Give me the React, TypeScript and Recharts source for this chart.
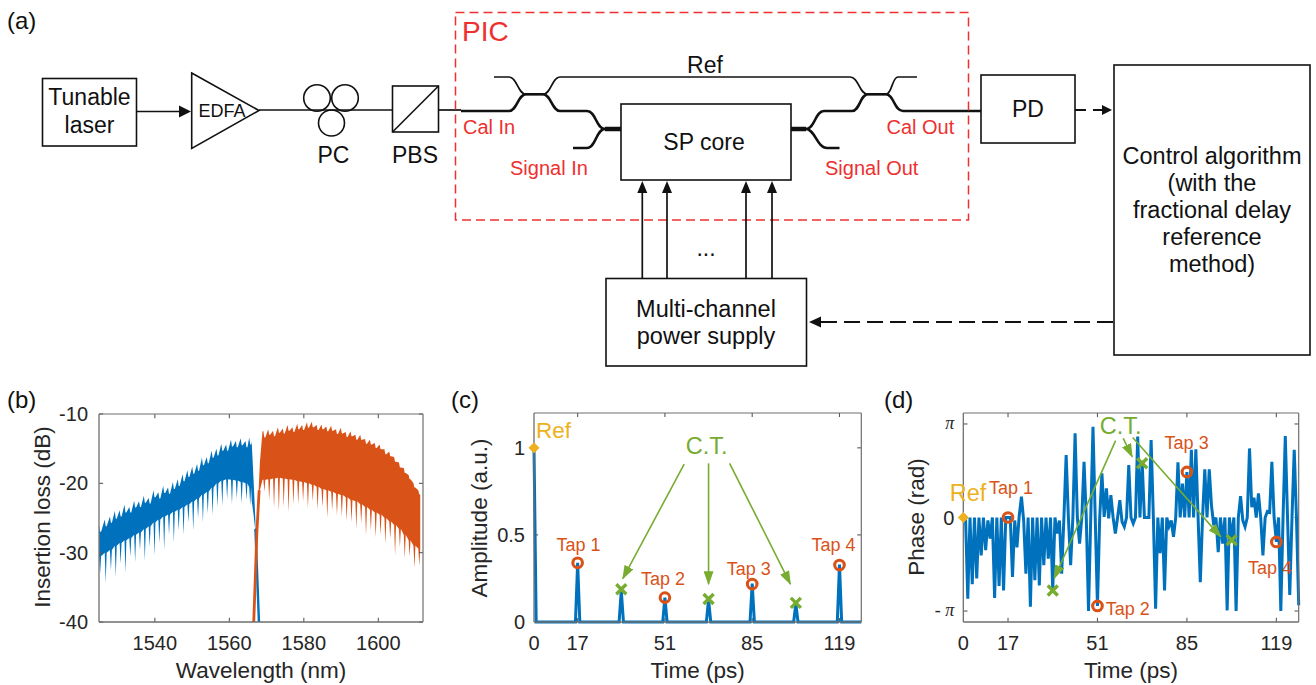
import { ComposedChart, Area, Line, XAxis, YAxis, ReferenceLine, Label, Surface } from 'recharts';

const BLUE = '#0072BD';
const ORANGE = '#D95319';
const GREEN = '#77AC30';
const YELLOW = '#EDB120';
const RED = '#EE3030';
const INK = '#262626';
const FRAME = '#6e6e6e';
const SANS = '"Liberation Sans", Arial, sans-serif';

// (b) spectrum, read per comb dip
const blueNm = [1525.3, 1526.8, 1528.2, 1529.5, 1530.8, 1532.1, 1533.4, 1534.7, 1536.0, 1537.3, 1538.6, 1539.9, 1541.2, 1542.5, 1543.8, 1545.1, 1546.4, 1547.7, 1549.0, 1550.3, 1551.6, 1552.9, 1554.2, 1555.5, 1556.8, 1558.1, 1559.4, 1560.7, 1562.0, 1563.3, 1564.6, 1565.6];
const blueTop = [-26.0, -25.2, -24.8, -24.0, -23.9, -23.1, -23.4, -22.5, -22.6, -21.8, -22.1, -21.0, -21.3, -20.4, -20.6, -19.8, -19.4, -18.7, -18.1, -17.6, -17.2, -16.3, -16.2, -15.3, -15.0, -14.3, -14.4, -13.7, -13.9, -13.5, -13.9, -13.4];
const blueValley = [-27.0, -26.2, -25.7, -25.1, -24.8, -24.2, -24.2, -23.5, -23.4, -22.8, -22.9, -22.0, -22.2, -21.4, -21.5, -20.8, -20.4, -19.7, -19.1, -18.6, -18.2, -17.4, -17.1, -16.3, -16.0, -15.3, -15.3, -14.7, -14.8, -14.5, -14.8, -14.4];
const blueBand = [-30.5, -30.0, -29.6, -29.0, -28.6, -28.2, -27.9, -27.4, -27.1, -26.6, -26.2, -25.6, -25.2, -24.8, -24.5, -24.1, -23.8, -23.4, -23.0, -22.6, -22.2, -21.6, -21.2, -20.6, -20.0, -19.6, -19.4, -19.5, -19.6, -19.8, -20.0, -20.6];
const blueDip = [-33.0, -34.4, -32.6, -33.5, -31.6, -32.9, -30.6, -31.4, -29.6, -31.2, -29.2, -30.4, -28.6, -29.6, -27.4, -28.5, -26.8, -27.4, -25.6, -26.8, -25.0, -25.6, -24.4, -24.6, -23.4, -23.2, -22.3, -23.0, -22.2, -22.9, -22.4, -23.2];
const blueEdgeNm = [1566.0, 1566.5, 1567.0];
const blueEdgeLow = [-22.5, -24.5, -27.0];
const blueEdgeHigh = [-14.0, -19.5, -25.5];
const blueTailNm = [1567.0, 1567.95];
const blueTailDb = [-26.5, -40];

const orangeNm = [1569.4, 1570.7, 1572.0, 1573.3, 1574.6, 1575.9, 1577.2, 1578.5, 1579.8, 1581.1, 1582.4, 1583.7, 1585.0, 1586.3, 1587.6, 1588.9, 1590.2, 1591.5, 1592.8, 1594.1, 1595.4, 1596.7, 1598.0, 1599.3, 1600.6, 1601.9, 1603.2, 1604.5, 1605.8, 1607.1, 1608.4, 1609.7, 1611.0];
const orangeTop = [-12.5, -12.2, -12.4, -11.9, -12.1, -11.6, -11.9, -11.4, -11.6, -11.2, -11.1, -11.6, -11.5, -11.8, -11.7, -12.2, -12.0, -12.6, -12.5, -13.0, -13.0, -13.6, -13.7, -14.2, -14.4, -15.1, -15.4, -16.2, -17.0, -17.8, -18.8, -20.0, -21.0];
const orangeValley = [-13.4, -13.0, -13.2, -12.7, -12.8, -12.4, -12.6, -12.2, -12.3, -12.0, -11.9, -12.3, -12.2, -12.5, -12.4, -12.9, -12.8, -13.3, -13.2, -13.7, -13.7, -14.3, -14.4, -14.9, -15.1, -15.8, -16.1, -16.9, -17.7, -18.5, -19.4, -20.6, -21.6];
const orangeBand = [-19.5, -19.4, -19.3, -19.2, -19.3, -19.4, -19.5, -19.7, -19.8, -20.0, -20.2, -20.5, -20.8, -21.0, -21.2, -21.5, -21.7, -22.0, -22.4, -22.6, -23.0, -23.4, -23.8, -24.2, -24.5, -25.0, -25.5, -26.0, -26.6, -27.4, -28.2, -29.0, -29.4];
const orangeDip = [-21.2, -22.4, -23.6, -24.1, -23.4, -24.2, -23.1, -23.0, -22.6, -23.6, -22.6, -23.8, -23.4, -25.0, -23.9, -24.6, -24.8, -25.4, -25.6, -26.6, -25.8, -27.5, -26.8, -27.8, -27.4, -28.7, -28.0, -30.4, -29.2, -30.8, -30.5, -32.2, -31.9];
const orangeEdgeNm = [1567.7, 1568.2, 1568.9];
const orangeEdgeLow = [-23.5, -21.0, -19.5];
const orangeEdgeHigh = [-23.0, -17.0, -12.5];
const orangeTailNm = [1566.55, 1567.4, 1568.0];
const orangeTailDb = [-40, -27, -21];

// (c) amplitude
const ampTimes = [0, 0.85, 16.15, 17, 17.85, 33.15, 34, 34.85, 50.15, 51, 51.85, 67.15, 68, 68.85, 84.15, 85, 85.85, 101.15, 102, 102.85, 118.15, 119, 119.85, 127.5];
const ampValues = [1, 0, 0, 0.34, 0, 0, 0.18, 0, 0, 0.14, 0, 0, 0.13, 0, 0, 0.22, 0, 0, 0.105, 0, 0, 0.33, 0, 0];

// (d) phase, one value every 0.85 ps
const SAMPLE_PS = 0.85;
const phaseValues = [
  0, 0, -2.73, 0, -2.24, 0, -2.05, 0, -1.27, 0, -1.1, -0.1, -0.71, 0, -2.7, 0, -2.3, 0, -2.45, 0,
  0, 0, -2.0, -0.1, -1.0, 0.05, 0.7, -0.1, -1.89, 0, -3.0, 0, -2.11, 0, -2.28, 0, -1.6, 0, -1.38, 0,
  -2.45, 0, -0.54, -0.1, -1.89, 0, 2.1, 0, -1.6, 0, 2.83, 0, -0.88, 0, 1.87, 0, -3.14, 0, 3.05, 0,
  -2.97, 0, 1.48, 0.02, 0.98, -0.03, 0.75, 0, -0.54, 0, 0.58, -0.15, -0.31, 0, 1.76, 0, -0.2, 0, 2.72, 0,
  1.85, 0, 0, 0, 2.6, 0, -3.06, 0, -1.2, 0, -2.45, 0, -0.3, -0.1, -0.65, 0, 1.85, 0, 1.14, 0,
  1.53, 0, 2.27, 0, 2.29, 0, -2.17, 0, 1.62, 0, 1.62, 0.4, -0.26, 0, -1.16, 0, -0.88, 0, -3.12, 0,
  -0.76, 0, -3.14, 0, 0.72, -0.1, -0.31, 0, 2.32, 0.35, 0.67, 0, 0.81, 0, -1.27, 0, 0.2, 0.17, 1.87, 0,
  -0.82, 0, -3.14, 0, 2.74, 0, -2.6, 0, 2.27, 0, -2.95,
];

// markers and notes, in data units of each panel
const ampTaps = [{ t: 17, v: 0.34 }, { t: 51, v: 0.14 }, { t: 85, v: 0.218 }, { t: 119, v: 0.327 }];
const ampCrossTalk = [{ t: 34, v: 0.188 }, { t: 68, v: 0.132 }, { t: 102, v: 0.11 }];
const ampRef = [{ t: 0, v: 1 }];
const ampTapNotes = [{ t: 17.3, v: 0.409, text: 'Tap 1' }, { t: 50.3, v: 0.213, text: 'Tap 2' }, { t: 83.7, v: 0.27, text: 'Tap 3' }, { t: 116.7, v: 0.409, text: 'Tap 4' }];
const ampArrows = [
  [{ x: 58.5, y: 0.906 }, { x: 34.6, y: 0.249 }],
  [{ x: 68, y: 0.911 }, { x: 68, y: 0.217 }],
  [{ x: 76.2, y: 0.911 }, { x: 99.9, y: 0.218 }],
];

const phaseTaps = [{ t: 17, v: 0 }, { t: 51, v: -2.97 }, { t: 85, v: 1.53 }, { t: 119, v: -0.82 }];
const phaseCrossTalk = [{ t: 34, v: -2.45 }, { t: 68, v: 1.82 }, { t: 102, v: -0.76 }];
const phaseRef = [{ t: 0, v: 0 }];
const phaseTapNotes = [{ t: 18.1, v: 0.774, text: 'Tap 1' }, { t: 62.5, v: -3.29, text: 'Tap 2' }, { t: 84.9, v: 2.3, text: 'Tap 3' }, { t: 116.6, v: -1.885, text: 'Tap 4' }];
const phaseArrows = [
  [{ x: 57.9, y: 2.58 }, { x: 34.6, y: -2.04 }],
  [{ x: 60.8, y: 2.66 }, { x: 64.2, y: 2.04 }],
  [{ x: 64.4, y: 2.69 }, { x: 97.9, y: -0.65 }],
];

const timeTicks = [0, 17, 51, 85, 119];
const nmTicks = [1540, 1560, 1580, 1600];
const dbTicks = [-40, -30, -20, -10];
const ampTicks = [0, 0.5, 1];
const phaseTicks = [-Math.PI, 0, Math.PI];

function combTable(nm: number[], top: number[], valley: number[], band: number[], dip: number[]) {
  const rows: { t: number; range: number[] }[] = [];
  nm.forEach((x, i) => {
    rows.push({ t: x - 0.26, range: [band[i], top[i]] });
    rows.push({ t: x, range: [dip[i], valley[i]] });
    rows.push({ t: x + 0.26, range: [band[i], valley[i]] });
  });
  return rows;
}

const edgeRows = (nm: number[], low: number[], high: number[]) => nm.map((t, i) => ({ t, range: [low[i], high[i]] }));
const pairs = (ts: number[], vs: number[]) => ts.map((t, i) => ({ t, v: vs[i] }));

const blueTable = [...combTable(blueNm, blueTop, blueValley, blueBand, blueDip), ...edgeRows(blueEdgeNm, blueEdgeLow, blueEdgeHigh)];
const orangeTable = [...edgeRows(orangeEdgeNm, orangeEdgeLow, orangeEdgeHigh), ...combTable(orangeNm, orangeTop, orangeValley, orangeBand, orangeDip)];
const ampTable = pairs(ampTimes, ampValues);
const phaseTable = phaseValues.map((v, i) => ({ t: i * SAMPLE_PS, v }));

const tickFont = { fontSize: 20, fill: INK, fontFamily: SANS };
const titleFont = { fontSize: 22.5, fill: INK, fontFamily: SANS };

// matlab style inward ticks on all four sides
function innerTicks(xs: number[], xDomain: number[], ys: number[], yDomain: number[], dx: number, dy: number) {
  const [x0, x1] = xDomain;
  const [y0, y1] = yDomain;
  const segments = [
    ...xs.flatMap((x) => [
      [{ x, y: y0 }, { x, y: y0 + dy }],
      [{ x, y: y1 }, { x, y: y1 - dy }],
    ]),
    ...ys.flatMap((y) => [
      [{ x: x0, y }, { x: x0 + dx, y }],
      [{ x: x1, y }, { x: x1 - dx, y }],
    ]),
  ];
  return segments.map((segment, i) => <ReferenceLine key={`tick-${i}`} segment={segment} stroke="#5a5a5a" strokeWidth={1.1} />);
}

const ringDot = (p: any) => <circle key={p.index} cx={p.cx} cy={p.cy} r={4.8} fill="none" stroke={ORANGE} strokeWidth={3.1} />;
const crossDot = (p: any) => (
  <path key={p.index} d={`M${p.cx - 5} ${p.cy - 5}L${p.cx + 5} ${p.cy + 5}M${p.cx - 5} ${p.cy + 5}L${p.cx + 5} ${p.cy - 5}`} stroke={GREEN} strokeWidth={3.4} fill="none" />
);
const diamondDot = (p: any) => <path key={p.index} d={`M${p.cx - 5} ${p.cy}L${p.cx} ${p.cy - 5}L${p.cx + 5} ${p.cy}L${p.cx} ${p.cy + 5}Z`} fill={YELLOW} stroke={YELLOW} />;
const noteDot = (color: string, size: number, text?: string) => (p: any) => (
  <text key={p.index} x={p.cx} y={p.cy} textAnchor="middle" fontSize={size} fontFamily={SANS} fill={color}>
    {text ?? p.payload.text}
  </text>
);

const rotated = (text: string, x: number, y: number) => () => (
  <text transform={`translate(${x},${y}) rotate(-90)`} textAnchor="middle" fontSize={22.5} fontFamily={SANS} fill={INK}>
    {text}
  </text>
);

function PiTick(p: any) {
  const v = p.payload.value;
  if (v === 0) {
    return <text x={p.x} y={p.y + 7} textAnchor="end" fontSize={20} fontFamily={SANS} fill={INK}>0</text>;
  }
  return (
    <text x={p.x} y={p.y + 5} textAnchor="end" fontSize={18} fontFamily='"Liberation Serif", serif' fontStyle="italic" fill={INK}>
      {v < 0 ? '- π' : 'π'}
    </text>
  );
}

function SpectrumPanel() {
  return (
    <div style={{ position: 'absolute', left: 0, top: 395 }}>
      <ComposedChart width={440} height={290} margin={{ top: 18, right: 16, bottom: 0, left: 0 }}>
        <XAxis dataKey="t" type="number" domain={[1525, 1612]} ticks={nmTicks} interval={0} height={63} stroke={FRAME} strokeWidth={1.3} tickLine={false} tickSize={-4} tickMargin={18} tick={tickFont} allowDataOverflow
          label={{ value: 'Wavelength (nm)', position: 'insideBottom', offset: 7, ...titleFont }} />
        <XAxis xAxisId="top" orientation="top" type="number" domain={[1525, 1612]} ticks={nmTicks} height={1} stroke={FRAME} strokeWidth={1.2} tickLine={false} tick={false} />
        <YAxis type="number" domain={[-40, -10]} ticks={dbTicks} interval={0} width={99} stroke={FRAME} strokeWidth={1.3} tickLine={false} tickSize={-4} tickMargin={15} tick={tickFont}>
          <Label content={rotated('Insertion loss (dB)', 50, 122)} />
        </YAxis>
        <YAxis yAxisId="right" orientation="right" type="number" domain={[-40, -10]} ticks={dbTicks} width={1} stroke={FRAME} strokeWidth={1.2} tickLine={false} tick={false} />
        <Area data={blueTable} dataKey="range" stroke="none" fill={BLUE} fillOpacity={1} isAnimationActive={false} />
        <Line data={pairs(blueTailNm, blueTailDb)} dataKey="v" stroke={BLUE} strokeWidth={2.4} dot={false} isAnimationActive={false} />
        <Area data={orangeTable} dataKey="range" stroke="none" fill={ORANGE} fillOpacity={1} isAnimationActive={false} />
        <Line data={pairs(orangeTailNm, orangeTailDb)} dataKey="v" stroke={ORANGE} strokeWidth={2.8} dot={false} isAnimationActive={false} />
        {innerTicks(nmTicks, [1525, 1612], dbTicks, [-40, -10], 1.1, 0.6)}
      </ComposedChart>
    </div>
  );
}

function AmplitudePanel() {
  return (
    <div style={{ position: 'absolute', left: 440, top: 395 }}>
      <ComposedChart width={440} height={290} margin={{ top: 17, right: 17.7, bottom: 0, left: 0 }}>
        <XAxis dataKey="t" type="number" domain={[0, 127.5]} ticks={timeTicks} interval={0} height={63} stroke={FRAME} strokeWidth={1.3} tickLine={false} tickSize={-4} tickMargin={18} tick={tickFont}
          label={{ value: 'Time (ps)', position: 'insideBottom', offset: 7, ...titleFont }} />
        <XAxis xAxisId="top" orientation="top" type="number" domain={[0, 127.5]} ticks={timeTicks} height={1} stroke={FRAME} strokeWidth={1.2} tickLine={false} tick={false} />
        <YAxis type="number" domain={[0, 1.2]} ticks={ampTicks} interval={0} width={94} stroke={FRAME} strokeWidth={1.3} tickLine={false} tickSize={-4} tickMargin={13} tick={tickFont}>
          <Label content={rotated('Amplitude (a.u.)', 47, 123)} />
        </YAxis>
        <YAxis yAxisId="right" orientation="right" type="number" domain={[0, 1.2]} ticks={ampTicks} width={1} stroke={FRAME} strokeWidth={1.2} tickLine={false} tick={false} />
        {innerTicks(timeTicks.slice(1), [0, 127.5], ampTicks.slice(1), [0, 1.2], 1.6, 0.023)}
        <Line data={ampTable} dataKey="v" stroke={BLUE} strokeWidth={3} dot={false} isAnimationActive={false} />
        {ampArrows.map((segment, i) => (
          <ReferenceLine key={i} segment={segment} stroke={GREEN} strokeWidth={1.6} markerEnd="url(#green-head)" />
        ))}
        <Line data={ampTaps} dataKey="v" stroke="none" dot={ringDot} isAnimationActive={false} />
        <Line data={ampCrossTalk} dataKey="v" stroke="none" dot={crossDot} isAnimationActive={false} />
        <Line data={ampRef} dataKey="v" stroke="none" dot={diamondDot} isAnimationActive={false} />
        <Line data={ampTapNotes} dataKey="v" stroke="none" dot={noteDot(ORANGE, 18)} isAnimationActive={false} />
        <Line data={[{ t: 67.3, v: 0.966 }]} dataKey="v" stroke="none" dot={noteDot(GREEN, 23.5, 'C.T.')} isAnimationActive={false} />
        <Line data={[{ t: 7.6, v: 1.056 }]} dataKey="v" stroke="none" dot={noteDot(YELLOW, 22.5, 'Ref')} isAnimationActive={false} />
      </ComposedChart>
    </div>
  );
}

function PhasePanel() {
  return (
    <div style={{ position: 'absolute', left: 880, top: 395 }}>
      <ComposedChart width={436} height={290} margin={{ top: 17, right: 16.3, bottom: 0, left: 0 }}>
        <XAxis dataKey="t" type="number" domain={[0, 127.5]} ticks={timeTicks} interval={0} height={63} stroke={FRAME} strokeWidth={1.3} tickLine={false} tickSize={-4} tickMargin={18} tick={tickFont}
          label={{ value: 'Time (ps)', position: 'insideBottom', offset: 7, ...titleFont }} />
        <XAxis xAxisId="top" orientation="top" type="number" domain={[0, 127.5]} ticks={timeTicks} height={1} stroke={FRAME} strokeWidth={1.2} tickLine={false} tick={false} />
        <YAxis type="number" domain={[-3.51, 3.51]} ticks={phaseTicks} interval={0} width={83.3} stroke={FRAME} strokeWidth={1.3} tickLine={false} tickSize={-4} tickMargin={13} tick={<PiTick />}>
          <Label content={rotated('Phase (rad)', 44, 122)} />
        </YAxis>
        <YAxis yAxisId="right" orientation="right" type="number" domain={[-3.51, 3.51]} ticks={phaseTicks} width={1} stroke={FRAME} strokeWidth={1.2} tickLine={false} tick={false} />
        {innerTicks(timeTicks.slice(1), [0, 127.5], phaseTicks, [-3.51, 3.51], 1.6, 0.14)}
        <Line data={phaseTable} dataKey="v" stroke={BLUE} strokeWidth={3} dot={false} isAnimationActive={false} />
        {phaseArrows.map((segment, i) => (
          <ReferenceLine key={i} segment={segment} stroke={GREEN} strokeWidth={1.6} markerEnd="url(#green-head)" />
        ))}
        <Line data={phaseTaps} dataKey="v" stroke="none" dot={ringDot} isAnimationActive={false} />
        <Line data={phaseCrossTalk} dataKey="v" stroke="none" dot={crossDot} isAnimationActive={false} />
        <Line data={phaseRef} dataKey="v" stroke="none" dot={diamondDot} isAnimationActive={false} />
        <Line data={phaseTapNotes} dataKey="v" stroke="none" dot={noteDot(ORANGE, 18)} isAnimationActive={false} />
        <Line data={[{ t: 59.8, v: 2.79 }]} dataKey="v" stroke="none" dot={noteDot(GREEN, 23.5, 'C.T.')} isAnimationActive={false} />
        <Line data={[{ t: 1.8, v: 0.559 }]} dataKey="v" stroke="none" dot={noteDot(YELLOW, 23.5, 'Ref')} isAnimationActive={false} />
      </ComposedChart>
    </div>
  );
}

const T = (p: any) => <text textAnchor="middle" fontFamily={SANS} fill="#111" fontSize={23} {...p} />;
const R = (p: any) => <text fontFamily={SANS} fill={RED} fontSize={20} {...p} />;
const box = { fill: 'none', stroke: '#111', strokeWidth: 1.6 };
const wire = { fill: 'none', stroke: '#111', strokeWidth: 1.7 };
const guide = { fill: 'none', stroke: '#111', strokeWidth: 2.6 };

function Setup() {
  return (
    <Surface width={1316} height={385} viewBox={{ x: 0, y: 0, width: 1316, height: 385 }} style={{ position: 'absolute', left: 0, top: 0 }}>
      <defs>
        <marker id="green-head" markerUnits="userSpaceOnUse" markerWidth={14} markerHeight={10} refX={13} refY={5} orient="auto">
          <path d="M0 0L14 5L0 10Z" fill={GREEN} />
        </marker>
      </defs>
      <rect x={42.5} y={78.5} width={94} height={67.5} {...box} />
      <T x={89.5} y={105}>Tunable</T>
      <T x={89.5} y={133}>laser</T>
      <path d="M137 111.5H180" {...wire} />
      <path d="M179 105.5L191 111.5L179 117.5Z" fill="#111" />
      <path d="M191.7 73L259 110.5L191.7 148.5Z" {...box} />
      <T x={222} y={117} fontSize={18}>EDFA</T>
      <path d="M259 110H392" {...wire} />
      <circle cx={317} cy={98} r={13.3} {...box} />
      <circle cx={345} cy={98} r={13.3} {...box} />
      <circle cx={331.5} cy={123} r={13} {...box} />
      <T x={333.5} y={163}>PC</T>
      <rect x={392.5} y={86} width={46} height={46} {...box} />
      <path d="M392.5 132L438.5 86" {...box} />
      <T x={415} y={163}>PBS</T>
      <path d="M439 110H461" {...wire} />

      <path d="M494 77H509C517 77 518 94.3 526 94.3H543C551 94.3 552 77 560 77H850C859 77 859 94.3 868 94.3H886C892 94.3 892 77 898 77H917" {...wire} />
      <path d="M461 111H509C517 111 518 94.3 526 94.3H543C551 94.3 552 111 560 111H587C596 111 596 129 605 129" {...guide} />
      <path d="M573 148H587C596 148 596 129 605 129" {...guide} />
      <path d="M605 129H621M791 129H806" fill="none" stroke="#111" strokeWidth={4.5} />
      <path d="M806 129C815 129 815 111 824 111H852C860 111 860 94.3 868 94.3H886C894 94.3 894 111 903 111H981" {...guide} />
      <path d="M806 129C815 129 817 148 827 148H839.5" {...guide} />
      <rect x={621} y={104} width={170} height={76} {...box} />
      <T x={704} y={150}>SP core</T>
      <T x={705} y={72.5}>Ref</T>

      <rect x={455.5} y={12.5} width={513} height={207.5} fill="none" stroke={RED} strokeWidth={1.5} strokeDasharray="9 5" />
      <text x={462} y={40.5} fontFamily={SANS} fill={RED} fontSize={28}>PIC</text>
      <R x={463} y={134}>Cal In</R>
      <R x={510} y={175}>Signal In</R>
      <R x={886.5} y={134}>Cal Out</R>
      <R x={825} y={175}>Signal Out</R>

      <rect x={981} y={75} width={94} height={68} {...box} />
      <T x={1028} y={117}>PD</T>
      <path d="M1075 110H1103" fill="none" stroke="#111" strokeWidth={1.8} strokeDasharray="11 7" />
      <path d="M1102 105L1112 110L1102 115Z" fill="#111" />

      <rect x={1114} y={65} width={196} height={290} {...box} />
      <T x={1212} y={164} fontSize={23.5}>Control algorithm</T>
      <T x={1212} y={191} fontSize={23.5}>(with the</T>
      <T x={1212} y={218} fontSize={23.5}>fractional delay</T>
      <T x={1212} y={245} fontSize={23.5}>reference</T>
      <T x={1212} y={272} fontSize={23.5}>method)</T>

      <rect x={606} y={278.5} width={200.5} height={87.5} {...box} />
      <T x={706} y={317} fontSize={23.5}>Multi-channel</T>
      <T x={706} y={343.5} fontSize={23.5}>power supply</T>
      {[642.3, 667, 746, 772].map((x) => (
        <g key={x}>
          <path d={`M${x} 278V190`} {...wire} />
          <path d={`M${x - 5} 193L${x} 181L${x + 5} 193Z`} fill="#111" />
        </g>
      ))}
      <T x={706} y={256} fontSize={23}>...</T>
      <path d="M1113 322H820" fill="none" stroke="#111" strokeWidth={2} strokeDasharray="16 7" />
      <path d="M821 316.5L809 322L821 327.5Z" fill="#111" />

      <text x={7} y={29} fontFamily={SANS} fill="#111" fontSize={24}>(a)</text>
    </Surface>
  );
}

export default function App() {
  const heading = (text: string, left: number) => (
    <div style={{ position: 'absolute', left, top: 386, font: `24px ${SANS}`, color: '#111', lineHeight: '28px' }}>{text}</div>
  );
  return (
    <div style={{ position: 'absolute', left: 0, top: 0, width: 1316, height: 685, overflow: 'hidden', background: '#fff' }}>
      <Setup />
      {heading('(b)', 7)}
      {heading('(c)', 451)}
      {heading('(d)', 884)}
      <SpectrumPanel />
      <AmplitudePanel />
      <PhasePanel />
    </div>
  );
}
